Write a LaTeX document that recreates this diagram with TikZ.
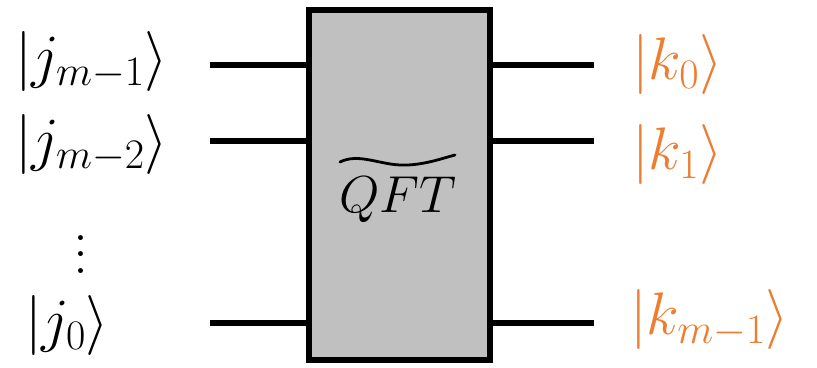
\RequirePackage{fix-cm}
\documentclass[tikz,border=0pt]{standalone}
\usepackage{amsmath}
\definecolor{korange}{HTML}{ED7D31}
\definecolor{boxgray}{HTML}{C0C0C0}
\tikzset{
  wire/.style={line width=6pt},
  gatebox/.style={draw, line width=6pt, fill=boxgray, inner sep=0pt},
  bigfont/.style={font=\fontsize{60}{66}\selectfont},
  ketin/.style={anchor=base west, inner sep=0pt, bigfont},
  ketout/.style={ketin, text=korange},
}
\begin{document}
\begin{tikzpicture}[x=1pt,y=-1pt]
\useasboundingbox (0,0) rectangle (817,367);
\node[gatebox, minimum width=181pt, minimum height=350pt] (qft) at (399.5,185) {};
\node[inner sep=0pt, anchor=base, font=\fontsize{52}{58}\selectfont] (lbl) at (398,212) {$QFT$};
\draw[line width=2.8pt, line cap=round] ([shift={(-58,-50)}]lbl.base) coordinate (t1)
  .. controls +(18,-9) and +(-22,-1) .. ([shift={(2,-47)}]lbl.base)
  .. controls +(22,1) and +(-12,3) .. ([shift={(57,-57)}]lbl.base);
% wire endpoints
\coordinate (a1) at (210,65);
\coordinate (a2) at (210,141);
\coordinate (a3) at (210,323);
\coordinate (b1) at (594,65);
\coordinate (b2) at (594,141);
\coordinate (b3) at (594,323);
\draw[wire] (a1) -- (a1 -| qft.west);
\draw[wire] (a2) -- (a2 -| qft.west);
\draw[wire] (a3) -- (a3 -| qft.west);
\draw[wire] (b1 -| qft.east) -- (b1);
\draw[wire] (b2 -| qft.east) -- (b2);
\draw[wire] (b3 -| qft.east) -- (b3);
% labels
\node[ketin] (j1) at (15,76) {$|j_{m-1}\rangle$};
\node[ketin] (j2) at (15,159) {$|j_{m-2}\rangle$};
\node[inner sep=0pt, bigfont, anchor=base] (dots) at (80.5,273) {\vbox{\baselineskip=16.5pt\lineskiplimit=-100pt\hbox{.}\hbox{.}\hbox{.}}};
\node[ketin] (j0) at (25,340) {$|j_{0}\rangle$};
\node[ketout] (k0) at (632,79) {$|k_{0}\rangle$};
\node[ketout] (k1) at (632,169) {$|k_{1}\rangle$};
\node[ketout] (km) at (630,334) {$|k_{m-1}\rangle$};
\end{tikzpicture}
\end{document}
